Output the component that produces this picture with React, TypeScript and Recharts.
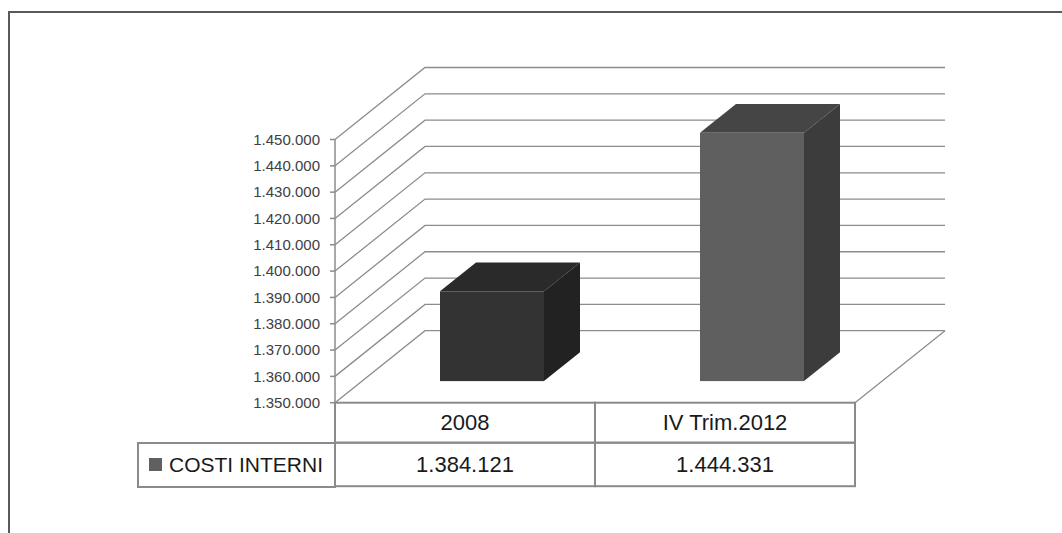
import { Bar, BarChart, CartesianGrid, Legend, ReferenceLine, XAxis, YAxis } from "recharts";

const CATEGORIES = ["2008", "IV Trim.2012"];
const COSTI_INTERNI = [1384121, 1444331];
const SERIES_NAME = "COSTI INTERNI";
const Y_TICKS = [
	1350000, 1360000, 1370000, 1380000, 1390000, 1400000, 1410000, 1420000,
	1430000, 1440000, 1450000,
];

const data = CATEGORIES.map((name, i) => ({ name, value: COSTI_INTERNI[i] }));

// 3d look: depth of the floor / back wall and where the boxes sit in it
const DEPTH_X = 90;
const DEPTH_Y = 72;
const BAR_FRONT = 0.3;
const BAR_BACK = 0.7;

const FONT = "'Liberation Sans', Arial, sans-serif";
const GRID = "#8c8c8c";
const TABLE_LINE = "#8a8a8a";
const FACES = [
	{ front: "#333333", top: "#2a2a2a", side: "#222222" },
	{ front: "#5f5f5f", top: "#454545", side: "#3c3c3c" },
];

const fmt = (n: number) => String(n).replace(/\B(?=(\d{3})+(?!\d))/g, ".");

function Box3D(props: any) {
	const { x, y, width, height, index } = props;
	const c = FACES[index % FACES.length];
	const fx = x + DEPTH_X * BAR_FRONT;
	const fy = y - DEPTH_Y * BAR_FRONT;
	const bx = x + DEPTH_X * BAR_BACK;
	const by = y - DEPTH_Y * BAR_BACK;
	return (
		<g>
			<polygon
				points={`${fx},${fy} ${bx},${by} ${bx + width},${by} ${fx + width},${fy}`}
				fill={c.top}
			/>
			<polygon
				points={`${fx + width},${fy} ${bx + width},${by} ${bx + width},${by + height} ${fx + width},${fy + height}`}
				fill={c.side}
			/>
			<rect x={fx} y={fy} width={width} height={height} fill={c.front} />
		</g>
	);
}

const wallLine = (p: any) => {
	const { x1, y1, x2 } = p;
	return (
		<polyline
			key={`wall-${y1}`}
			points={`${x1},${y1} ${x1 + DEPTH_X},${y1 - DEPTH_Y} ${x2 + DEPTH_X},${y1 - DEPTH_Y}`}
			fill="none"
			stroke={GRID}
			strokeWidth={1.3}
		/>
	);
};

const floorEdge = (p: any) => (
	<line
		x1={p.x2}
		y1={p.y2}
		x2={p.x2 + DEPTH_X}
		y2={p.y2 - DEPTH_Y}
		stroke={GRID}
		strokeWidth={1.3}
	/>
);

function TableTick(props: any) {
	const { x, y, payload, index } = props;
	const half = payload?.offset || 130;
	const i = index ?? payload?.index ?? 0;
	const h1 = 40;
	const h2 = 43.5;
	return (
		<g>
			<rect x={x - half} y={y} width={half * 2} height={h1} fill="none" stroke={TABLE_LINE} strokeWidth={2} />
			<rect x={x - half} y={y + h1} width={half * 2} height={h2} fill="none" stroke={TABLE_LINE} strokeWidth={2} />
			<text x={x} y={y + h1 / 2} textAnchor="middle" dominantBaseline="central" fontFamily={FONT} fontSize={22} fill="#1a1a1a">
				{payload.value}
			</text>
			<text x={x} y={y + h1 + h2 / 2} textAnchor="middle" dominantBaseline="central" fontFamily={FONT} fontSize={22} fill="#1a1a1a">
				{fmt(COSTI_INTERNI[i])}
			</text>
		</g>
	);
}

function LegendCell() {
	return (
		<div
			style={{
				boxSizing: "border-box",
				width: 199,
				height: 45.5,
				border: `2px solid ${TABLE_LINE}`,
				display: "flex",
				alignItems: "center",
				paddingLeft: 10,
				fontFamily: FONT,
				fontSize: 21,
				whiteSpace: "nowrap",
				color: "#1a1a1a",
				background: "#fff",
			}}
		>
			<span style={{ display: "inline-block", flex: "none", width: 13, height: 13, background: "#606060", marginRight: 7 }} />
			{SERIES_NAME}
		</div>
	);
}

export default function App() {
	return (
		<div style={{ position: "absolute", left: 0, top: 0, width: 1062, height: 533, overflow: "hidden", background: "#fff" }}>
			<div
				style={{
					position: "absolute",
					left: 8,
					top: 11,
					width: 1200,
					height: 700,
					borderTop: "2px solid #5a5a5a",
					borderLeft: "2px solid #5a5a5a",
				}}
			/>
			<div style={{ position: "absolute", left: 0, top: 0 }}>
				<BarChart
					width={1062}
					height={533}
					data={data}
					margin={{ top: 139.5, left: 235, right: 207, bottom: 46.3 }}
				>
					<CartesianGrid horizontal={wallLine} vertical={false} syncWithTicks />
					<ReferenceLine y={Y_TICKS[0]} shape={floorEdge} />
					<YAxis
						width={100}
						domain={[Y_TICKS[0], Y_TICKS[Y_TICKS.length - 1]]}
						ticks={Y_TICKS}
						tickFormatter={fmt}
						interval={0}
						axisLine={{ stroke: GRID, strokeWidth: 1.5 }}
						tickLine={{ stroke: GRID, strokeWidth: 1.5 }}
						tickSize={5}
						tickMargin={10}
						tick={{ fontFamily: FONT, fontSize: 15, fill: "#404040" }}
					/>
					<XAxis
						dataKey="name"
						height={84}
						axisLine={false}
						tickLine={false}
						tickSize={0}
						tickMargin={0}
						interval={0}
						tick={<TableTick />}
					/>
					<Legend
						layout="horizontal"
						verticalAlign="middle"
						align="center"
						content={<LegendCell />}
						wrapperStyle={{ position: "absolute", left: 137, top: 442, width: 199, height: 46, margin: 0 }}
					/>
					<Bar dataKey="value" name={SERIES_NAME} barSize={104} shape={<Box3D />} isAnimationActive={false} />
				</BarChart>
			</div>
		</div>
	);
}
